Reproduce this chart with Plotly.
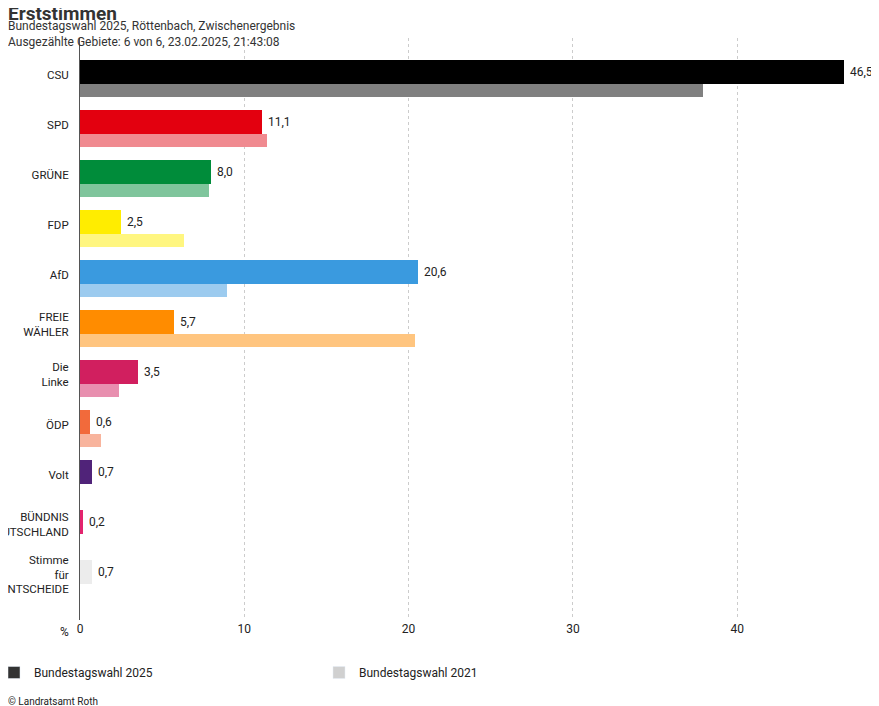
import plotly.graph_objects as go

parties = ["CSU", "SPD", "GRÜNE", "FDP", "AfD", "FREIE<br>WÄHLER", "Die<br>Linke", "ÖDP", "Volt",
           "BÜNDNIS<br>DEUTSCHLAND", "Stimme<br>für<br>VOLKSENTSCHEIDE"]
votes_2025 = [46.5, 11.1, 8.0, 2.5, 20.6, 5.7, 3.5, 0.6, 0.7, 0.2, 0.7]
votes_2021 = [37.9, 11.4, 7.85, 6.3, 8.95, 20.4, 2.4, 1.3, None, None, None]
colors_2025 = ["#000000", "#e3000f", "#008c3a", "#ffed00", "#3a9adf", "#ff8c00", "#d11f5f",
               "#f26a3b", "#502379", "#e3246e", "#ececec"]
colors_2021 = ["#808080", "#f08a90", "#7fc59c", "#fff680", "#9ccbef", "#ffc57f", "#e88faf",
               "#f8b49d", "#ffffff", "#ffffff", "#ffffff"]

pos = list(range(len(parties)))
font = "Roboto"
L, R, T, B = 72, 40, 30, 94
W = 879 - L - R
H = 706 - T - B

fig = go.Figure()
fig.add_trace(go.Bar(y=[p + 0.31 for p in pos], x=votes_2021, orientation="h", width=0.26,
                     marker=dict(color=colors_2021, line_width=0), showlegend=False, hoverinfo="x"))
fig.add_trace(go.Bar(y=[p - 0.06 for p in pos], x=votes_2025, orientation="h", width=0.48,
                     marker=dict(color=colors_2025, line_width=0), showlegend=False,
                     text=[" " + f"{v:.1f}".replace(".", ",") for v in votes_2025],
                     textposition="outside", cliponaxis=False, constraintext="none",
                     textfont=dict(size=12, color="#222"), hoverinfo="x"))
# legend entries
fig.add_trace(go.Bar(y=[None], x=[None], name="Bundestagswahl 2025", marker_color="#333333"))
fig.add_trace(go.Bar(y=[None], x=[None], name="Bundestagswahl 2021", marker_color="#d0d0d0"))

fig.update_layout(
    width=879, height=706, plot_bgcolor="white", paper_bgcolor="white",
    margin=dict(l=L, r=R, t=T, b=B, autoexpand=False),
    barmode="overlay", bargap=0,
    font=dict(family=font, size=12, color="#222"),
    xaxis=dict(range=[0, W / 16.43], tickvals=[0, 10, 20, 30, 40], showgrid=True, gridcolor="#cccccc",
               griddash="dot", zeroline=False, showline=False, ticks="", tickfont=dict(size=12),
               automargin=False),
    yaxis=dict(range=[10.91, -0.73], tickvals=pos, ticktext=parties, showgrid=False,
               zeroline=False, showline=True, linecolor="#555", linewidth=1, ticks="",
               ticklabelstandoff=8, tickfont=dict(size=11.5), automargin=False),
    legend=dict(orientation="h", x=-(L + 14) / W, xanchor="left", y=-38 / H, yanchor="top",
                entrywidth=280, entrywidthmode="pixels", font=dict(size=12)),
    annotations=[
        dict(text="<b>Erststimmen</b>", xref="paper", yref="paper", x=-(L + 2) / W, y=1 + (T + 8) / H,
             xanchor="left", yanchor="top", showarrow=False, font=dict(size=19, color="#333")),
        dict(text="Bundestagswahl 2025, Röttenbach, Zwischenergebnis<br>Ausgezählte Gebiete: 6 von 6, 23.02.2025, 21:43:08",
             xref="paper", yref="paper", x=-(L + 2) / W, y=1 + (T - 9) / H, xanchor="left", yanchor="top",
             align="left", showarrow=False, font=dict(size=12, color="#333")),
        dict(text="%", xref="paper", yref="paper", x=-0.012, y=-0.006, xanchor="right", yanchor="top",
             showarrow=False, font=dict(size=12)),
        dict(text="© Landratsamt Roth", xref="paper", yref="paper", x=-(L + 2) / W, y=-74 / H,
             xanchor="left", yanchor="top", showarrow=False, font=dict(size=10)),
    ],
)
fig.write_html("out.html")
